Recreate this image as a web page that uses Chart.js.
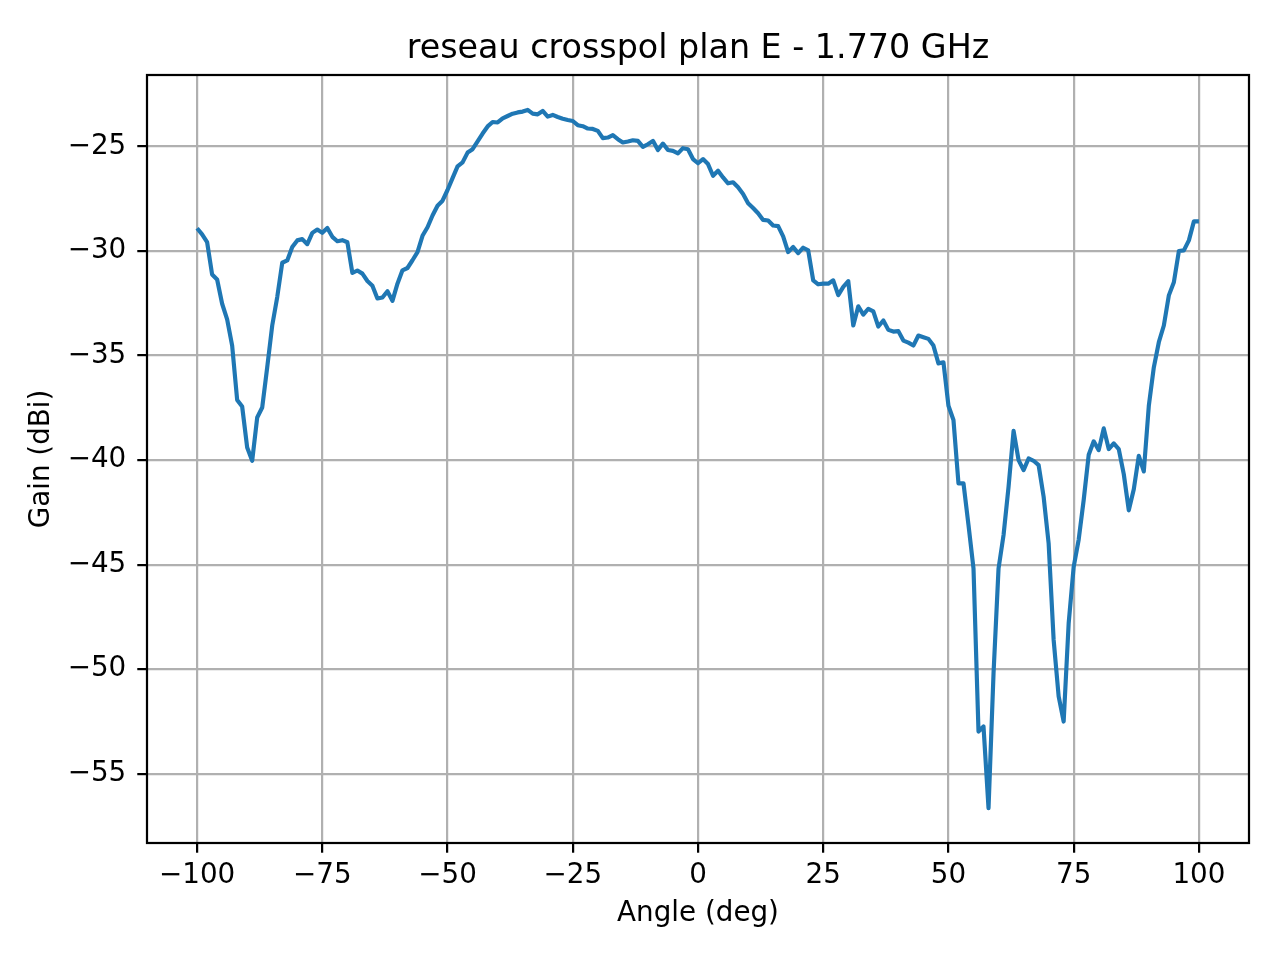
<!DOCTYPE html>
<html>
<head>
<meta charset="utf-8">
<title>reseau crosspol plan E - 1.770 GHz</title>
<script src="https://cdn.jsdelivr.net/npm/chart.js@4.4.1/dist/chart.umd.min.js"></script>
<style>
    body { margin: 0; background: #ffffff; }
    #myChart { display: block; }
</style>
</head>
<body>
<canvas id="myChart" width="1280" height="960" style="width:1280px;height:960px"></canvas>
<script>
// angles in degrees, one sample per degree
var angles = [];
for (var a = -100; a <= 100; a++) angles.push(a);

// gain in dBi, -100 .. 100 deg
var gainNeg = [
    -28.91, -29.20, -29.57, -31.12, -31.36, -32.52, -33.27, -34.52, -37.12, -37.44,   // -100 .. -91
    -39.39, -40.03, -37.96, -37.48, -35.56, -33.56, -32.20, -30.56, -30.45, -29.81,   // -90 .. -81
    -29.49, -29.43, -29.67, -29.13, -28.97, -29.13, -28.90, -29.32, -29.53, -29.48,   // -80 .. -71
    -29.58, -31.05, -30.93, -31.08, -31.43, -31.66, -32.27, -32.22, -31.92, -32.38,   // -70 .. -61
    -31.56, -30.92, -30.81, -30.44, -30.05, -29.27, -28.86, -28.30, -27.83, -27.59,   // -60 .. -51
    -27.08, -26.51, -25.95, -25.76, -25.29, -25.13, -24.76, -24.38, -24.04, -23.83,   // -50 .. -41
    -23.85, -23.65, -23.54, -23.43, -23.37, -23.33, -23.25, -23.43, -23.46, -23.30,   // -40 .. -31
    -23.57, -23.49, -23.59, -23.67, -23.73, -23.78, -23.98, -24.03, -24.14, -24.16,   // -30 .. -21
    -24.25, -24.60, -24.57, -24.46, -24.65, -24.81, -24.76, -24.70, -24.73, -25.02,   // -20 .. -11
    -24.89, -24.73, -25.17, -24.86, -25.17, -25.21, -25.33, -25.08, -25.13, -25.60    // -10 .. -1
];
var gainPos = [
    -25.80, -25.60, -25.84, -26.40, -26.16, -26.48, -26.76, -26.71, -26.95, -27.27,   // 0 .. 9
    -27.71, -27.94, -28.19, -28.51, -28.54, -28.78, -28.81, -29.30, -30.05, -29.81,   // 10 .. 19
    -30.10, -29.84, -29.97, -31.40, -31.59, -31.56, -31.56, -31.40, -32.11, -31.71,   // 20 .. 29
    -31.44, -33.56, -32.64, -33.04, -32.76, -32.88, -33.61, -33.32, -33.77, -33.85,   // 30 .. 39
    -33.83, -34.28, -34.38, -34.52, -34.04, -34.12, -34.20, -34.52, -35.37, -35.32,   // 40 .. 49
    -37.40, -38.08, -41.11, -41.11, -43.10, -45.18, -52.98, -52.74, -56.64, -50.19,   // 50 .. 59
    -45.18, -43.58, -41.27, -38.60, -40.00, -40.48, -39.92, -40.03, -40.24, -41.75,   // 60 .. 69
    -43.98, -48.60, -51.30, -52.50, -47.80, -45.10, -43.80, -41.90, -39.74, -39.10,   // 70 .. 79
    -39.52, -38.48, -39.47, -39.20, -39.47, -40.67, -42.40, -41.39, -39.79, -40.54,   // 80 .. 89
    -37.40, -35.56, -34.36, -33.56, -32.12, -31.49, -30.00, -29.97, -29.49, -28.58,   // 90 .. 99
    -28.58                                                                            // 100
];
var gains = gainNeg.concat(gainPos);

var xTicks = [-100, -75, -50, -25, 0, 25, 50, 75, 100];
var yTicks = [-55, -50, -45, -40, -35, -30, -25];

var chartTitle = 'reseau crosspol plan E - 1.770 GHz';
var fontFamily = "'DejaVu Sans', sans-serif";
var pt = 200 / 72;   // figure was drawn at 200 dpi

// matplotlib style minus sign
function fmtTick(v) {
    return v < 0 ? '\u2212' + Math.abs(v) : '' + v;
}

// box around the plot area + title centred over the axes (not the canvas)
var axesDeco = {
    id: 'axesDeco',
    afterDraw: function (chart, args, opts) {
        var c = chart.ctx, area = chart.chartArea;
        c.save();
        c.strokeStyle = '#000000';
        c.lineWidth = 0.8 * pt;
        c.strokeRect(area.left, area.top, area.right - area.left, area.bottom - area.top);

        c.fillStyle = '#000000';
        c.font = (12 * pt) + 'px ' + fontFamily;
        c.textAlign = 'center';
        c.textBaseline = 'alphabetic';
        c.fillText(opts.text, (area.left + area.right) / 2, area.top - 6 * pt);
        c.restore();
    }
};

var points = angles.map(function (x, i) { return { x: x, y: gains[i] }; });

var ctx = document.getElementById("myChart").getContext('2d');
var chart = new Chart(ctx, {
    type: 'line',
    data: {
        datasets: [{
            data: points,
            borderColor: '#1f77b4',
            borderWidth: 1.5 * pt,
            borderJoinStyle: 'round',
            pointRadius: 0,
            fill: false,
            tension: 0
        }]
    },
    options: {
        responsive: false,
        animation: false,
        devicePixelRatio: 1,
        layout: { padding: { left: 0, right: 31, top: 75, bottom: 0 } },
        plugins: {
            legend: { display: false },
            tooltip: { enabled: false },
            title: { display: false },
            axesDeco: { text: chartTitle }
        },
        scales: {
            x: {
                type: 'linear',
                min: -110,
                max: 110,
                afterBuildTicks: function (scale) {
                    scale.ticks = xTicks.map(function (v) { return { value: v }; });
                },
                afterFit: function (scale) { scale.height = 117; },
                ticks: {
                    color: '#000000',
                    font: { family: fontFamily, size: 10 * pt },
                    padding: 6,
                    maxRotation: 0,
                    autoSkip: false,
                    callback: fmtTick
                },
                grid: {
                    color: '#b0b0b0',
                    lineWidth: 0.8 * pt,
                    tickColor: '#000000',
                    tickWidth: 0.8 * pt,
                    tickLength: 3.5 * pt
                },
                border: { display: false },
                title: {
                    display: true,
                    text: 'Angle (deg)',
                    color: '#000000',
                    font: { family: fontFamily, size: 10 * pt },
                    padding: { top: 0, bottom: 30 }
                }
            },
            y: {
                type: 'linear',
                min: -58.31,
                max: -21.58,
                afterBuildTicks: function (scale) {
                    scale.ticks = yTicks.map(function (v) { return { value: v }; });
                },
                afterFit: function (scale) { scale.width = 147; },
                ticks: {
                    color: '#000000',
                    font: { family: fontFamily, size: 10 * pt },
                    padding: 11,
                    autoSkip: false,
                    callback: fmtTick
                },
                grid: {
                    color: '#b0b0b0',
                    lineWidth: 0.8 * pt,
                    tickColor: '#000000',
                    tickWidth: 0.8 * pt,
                    tickLength: 3.5 * pt
                },
                border: { display: false },
                title: {
                    display: true,
                    text: 'Gain (dBi)',
                    color: '#000000',
                    font: { family: fontFamily, size: 10 * pt },
                    padding: { top: 25, bottom: 0 }
                }
            }
        }
    },
    plugins: [axesDeco]
});
</script>
</body>
</html>
